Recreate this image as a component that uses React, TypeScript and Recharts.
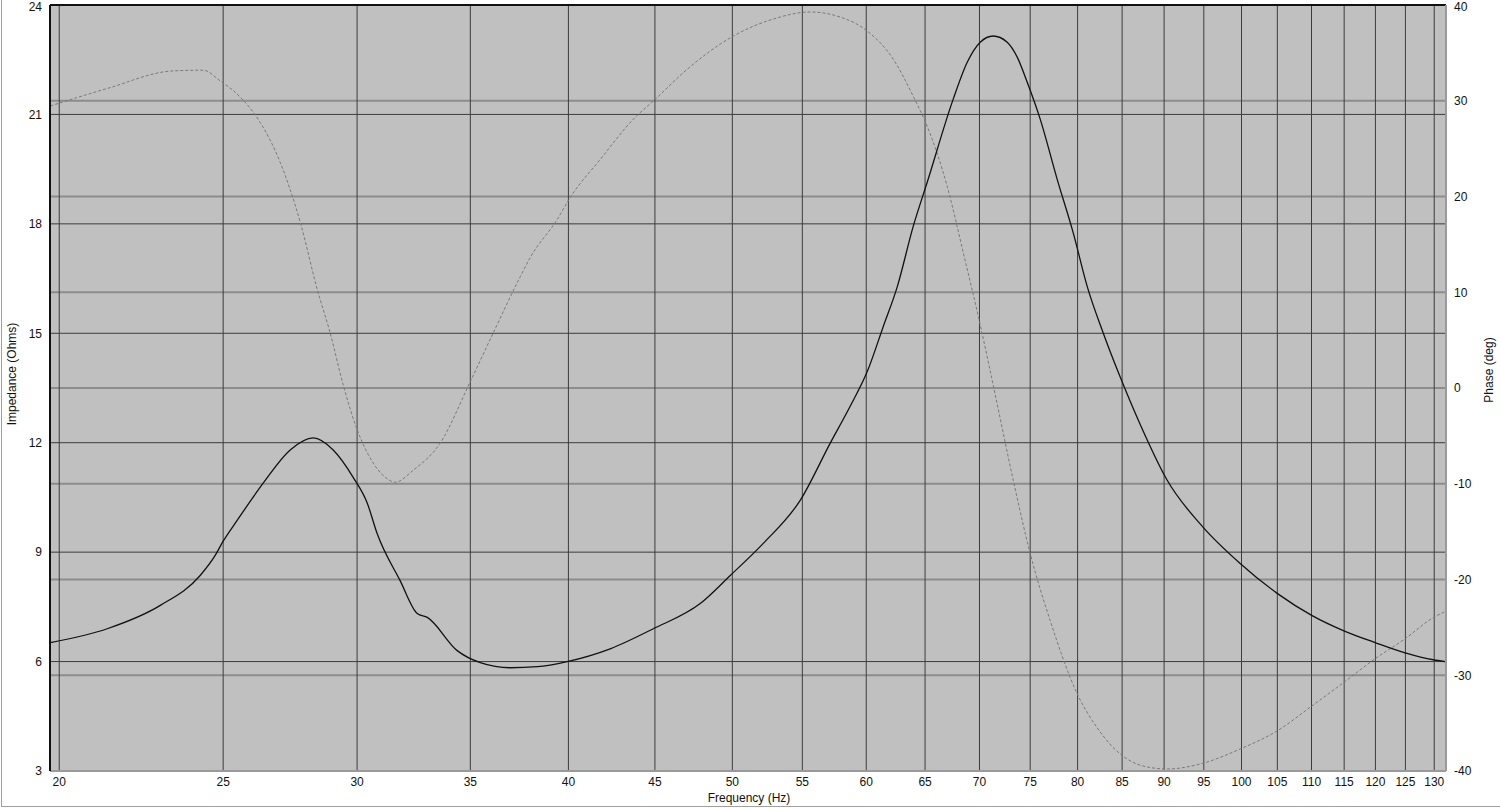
import { CartesianGrid, Label, Line, LineChart, ReferenceLine, XAxis, YAxis } from "recharts"

const freqTicks = [20, 25, 30, 35, 40, 45, 50, 55, 60, 65, 70, 75, 80, 85, 90, 95, 100, 105, 110, 115, 120, 125, 130]
const impedanceTicks = [3, 6, 9, 12, 15, 18, 21, 24]
const phaseTicks = [-40, -30, -20, -10, 0, 10, 20, 30, 40]

// impedance curve (Hz / Ohms)
const impFreq = [
  19.76, 21.35, 22.95, 24.23, 24.73, 25.0, 25.48, 26.4, 27.39, 28.26,
  29.04, 29.84, 30.42, 30.83, 31.81, 32.56, 33.01, 34.38, 35.48, 36.95,
  38.34, 39.93, 42.34, 44.9, 47.86, 49.86, 52.15, 54.84, 57.13, 58.7,
  60.08, 61.4, 62.59, 63.96, 65.19, 67.54, 68.84, 70.07, 71.32, 72.69,
  73.69, 74.7, 76.03, 77.81, 79.52, 81.06, 82.84, 84.78, 87.12,
  90.38, 94.92, 99.82, 104.98, 110.09, 114.86, 119.96, 124.96, 129.82, 131.95,
]
const impedance = [
  6.52, 6.9, 7.54, 8.36, 8.91, 9.3, 9.87, 10.89, 11.8, 12.13,
  11.8, 11.05, 10.34, 9.51, 8.22, 7.32, 7.21, 6.3, 5.97, 5.83,
  5.86, 6.0, 6.35, 6.9, 7.59, 8.36, 9.24, 10.42, 11.99, 13.0,
  13.95, 15.18, 16.28, 17.93, 19.14, 21.42, 22.43, 22.98, 23.15, 22.98,
  22.57, 21.88, 20.87, 19.22, 17.76, 16.28, 15.01, 13.8, 12.5,
  10.97, 9.68, 8.69, 7.87, 7.26, 6.85, 6.52, 6.24, 6.05, 6.0,
]

// phase curve (Hz / deg)
const phaseFreq = [
  19.76, 21.35, 23.36, 24.33, 24.9, 25.59, 26.29, 27.02, 27.77, 28.42,
  28.92, 29.44, 30.01, 30.67, 31.17, 31.6, 32.38, 33.59, 34.99, 36.11,
  37.46, 37.97, 39.39, 40.1, 41.77, 43.69, 45.02, 47.03, 50.06, 52.86,
  55.59, 57.91, 60.08, 62.24, 63.96, 65.19, 66.99, 68.47, 70.07, 71.52,
  73.29, 75.0, 77.07, 79.96, 82.17, 84.78, 87.47, 90.38, 94.53, 99.82,
  104.98, 110.09, 114.86, 119.96, 124.96, 129.82, 131.95,
]
const phase = [
  29.46, 31.28, 33.12, 33.19, 32.07, 30.37, 27.75, 23.56, 17.28, 10.26,
  5.76, 0.31, -4.4, -7.85, -9.32, -9.84, -8.59, -5.76, 0.63, 5.76,
  11.62, 13.61, 17.59, 19.9, 23.87, 28.06, 30.16, 33.3, 36.75, 38.53,
  39.27, 38.74, 37.28, 34.35, 30.47, 27.33, 21.05, 14.14, 6.6, -0.73,
  -9.63, -17.28, -24.29, -31.94, -35.5, -38.22, -39.48, -39.79, -39.27, -37.7,
  -35.81, -33.19, -30.79, -28.27, -26.18, -23.98, -23.35,
]

const impData = impFreq.map((f, i) => ({ f, z: impedance[i] }))
const phaseData = phaseFreq.map((f, i) => ({ f, p: phase[i] }))

const font = "'Liberation Sans', Arial, sans-serif"
const tick = { fontSize: 12, fill: "#111", fontFamily: font }
const titleStyle = { fontSize: 12, fill: "#111", fontFamily: font }

// y tick that stays inside the picture at the top edge
function SideTick(props: any) {
  const { x, y, payload, textAnchor } = props
  return (
    <text x={x} y={Math.max(y, 7)} dy="0.355em" textAnchor={textAnchor} style={tick}>
      {payload.value}
    </text>
  )
}

export default function App() {
  return (
    <div style={{ position: "absolute", left: 0, top: 0, width: 1500, height: 809, background: "#fff" }}>
      <div style={{ position: "absolute", left: 1, top: 0, width: 1, height: 807, background: "#a0a0a0" }} />
      <div style={{ position: "absolute", left: 1, top: 806, width: 1499, height: 1, background: "#a0a0a0" }} />
      <LineChart width={1500} height={809} margin={{ top: 5, right: 8, bottom: 7, left: 8 }}>
        <CartesianGrid yAxisId="right" vertical={false} fill="#c0c0c0" stroke="#8c8c8c" strokeWidth={2} />
        <CartesianGrid yAxisId="left" stroke="#3c3c3c" strokeWidth={1} />
        <XAxis
          dataKey="f"
          type="number"
          scale="log"
          domain={[19.75, 132.1]}
          ticks={freqTicks}
          allowDataOverflow
          height={31}
          tickSize={0}
          tickMargin={6}
          tick={tick}
          axisLine={{ stroke: "#9a9a9a", strokeWidth: 2 }}
          interval={0}
        >
          <Label
            content={() => (
              <text x={749} y={802} textAnchor="middle" style={titleStyle}>
                Frequency (Hz)
              </text>
            )}
          />
        </XAxis>
        <YAxis
          yAxisId="left"
          orientation="left"
          domain={[3, 24]}
          ticks={impedanceTicks}
          allowDataOverflow
          width={42}
          tickSize={0}
          tickMargin={8}
          tick={<SideTick />}
          axisLine={{ stroke: "#111", strokeWidth: 2 }}
          interval={0}
        >
          <Label
            content={() => (
              <text x={12} y={374} transform="rotate(-90 12 374)" textAnchor="middle" dominantBaseline="central" style={titleStyle}>
                Impedance (Ohms)
              </text>
            )}
          />
        </YAxis>
        <YAxis
          yAxisId="right"
          orientation="right"
          domain={[-40, 40]}
          ticks={phaseTicks}
          allowDataOverflow
          width={46}
          tickSize={0}
          tickMargin={8}
          tick={<SideTick />}
          axisLine={{ stroke: "#9a9a9a", strokeWidth: 2 }}
          interval={0}
        >
          <Label
            content={() => (
              <text x={1489} y={370} transform="rotate(-90 1489 370)" textAnchor="middle" dominantBaseline="central" style={titleStyle}>
                Phase (deg)
              </text>
            )}
          />
        </YAxis>
        <ReferenceLine yAxisId="left" y={24} stroke="#111" strokeWidth={2} />
        <Line
          data={phaseData}
          yAxisId="right"
          dataKey="p"
          type="monotone"
          stroke="#7a7a7a"
          strokeWidth={1}
          strokeDasharray="3 2"
          dot={false}
          activeDot={false}
          isAnimationActive={false}
        />
        <Line
          data={impData}
          yAxisId="left"
          dataKey="z"
          type="monotone"
          stroke="#111"
          strokeWidth={1.3}
          dot={false}
          activeDot={false}
          isAnimationActive={false}
        />
      </LineChart>
    </div>
  )
}
